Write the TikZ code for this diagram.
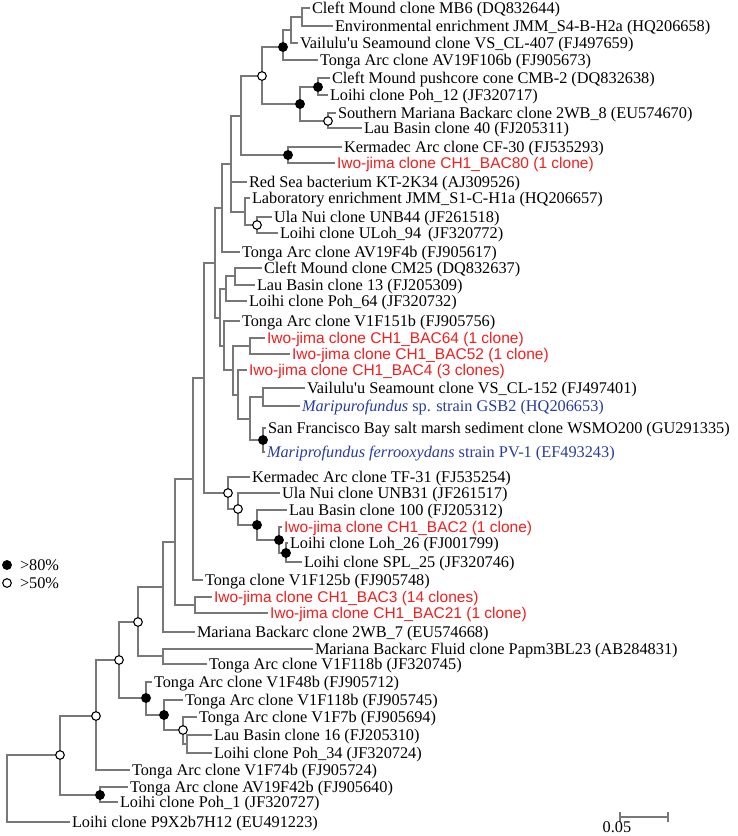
\documentclass[tikz,border=0pt]{standalone}
\usepackage{fontspec}
\setmainfont{Liberation Serif}
\newfontfamily\arialf{Liberation Sans}
\definecolor{brgray}{RGB}{120,120,120}
\definecolor{redt}{RGB}{240,30,30}
\definecolor{bluet}{RGB}{40,60,160}
\begin{document}
\begin{tikzpicture}[x=1pt,y=-1pt,
  br/.style={draw=brgray, line width=1.1pt},
  lf/.style={anchor=west, inner xsep=1.8pt, inner ysep=0pt, font=\fontsize{16.3}{17}\selectfont, text height=10.8pt, text depth=0pt},
  lfr/.style={lf, text=redt, font=\arialf\fontsize{15.5}{17}\selectfont},
  lfb/.style={lf, text=bluet},
  fdot/.style={circle, fill=black, draw=black, line width=0.8pt, inner sep=0pt, minimum size=9pt},
  odot/.style={circle, fill=white, draw=black, line width=1.1pt, inner sep=0pt, minimum size=8.6pt}]
\useasboundingbox (0,0) rectangle (737,836);
% internal nodes
\coordinate (nmb) at (302,17);
\coordinate (nvs) at (291,30);
\coordinate (nav) at (283,47);
\coordinate (ncmb) at (318,87);
\coordinate (nlau) at (328,121);
\coordinate (npoh) at (300,104);
\coordinate (ntop) at (262,76);
\coordinate (nker) at (288,155);
\coordinate (n241) at (241,116);
\coordinate (nuln) at (257,225);
\coordinate (nlab) at (245,212);
\coordinate (n231) at (231,164);
\coordinate (n222) at (222,208);
\coordinate (nD) at (235,276);
\coordinate (nB) at (226,289);
\coordinate (nJ) at (250,346);
\coordinate (nF) at (263,397);
\coordinate (nG) at (263,440);
\coordinate (nE) at (250,419);
\coordinate (nH) at (238,395);
\coordinate (nI) at (233,370);
\coordinate (nC) at (224,346);
\coordinate (nA) at (220,318);
\coordinate (n215) at (215,263);
\coordinate (nM) at (286,553);
\coordinate (nL) at (279,540);
\coordinate (nK) at (257,525);
\coordinate (nN) at (238,509);
\coordinate (ntf) at (228,493);
\coordinate (n204) at (204,378);
\coordinate (n193) at (193,479);
\coordinate (nbac) at (195,605);
\coordinate (n175) at (175,542);
\coordinate (n163) at (163,587);
\coordinate (npap) at (163,656);
\coordinate (n138) at (138,622);
\coordinate (npoh34) at (187,744);
\coordinate (n183) at (183,730);
\coordinate (n164) at (164,715);
\coordinate (n146) at (146,698);
\coordinate (n119) at (119,660);
\coordinate (n96) at (96,716);
\coordinate (n100) at (100,795);
\coordinate (n60) at (60,755);
\coordinate (root) at (7,788);
% leaves
\node[lf] (L1) at (310,8) {Cleft Mound clone MB6 (DQ832644)};
\node[lf] (L2) at (333,26) {Environmental enrichment JMM\_S4-B-H2a (HQ206658)};
\node[lf] (L3) at (298,43) {Vailulu\textquotesingle u Seamound clone VS\_CL-407 (FJ497659)};
\node[lf] (L4) at (318,60) {Tonga Arc clone AV19F106b (FJ905673)};
\node[lf] (L5) at (330,78) {Cleft Mound pushcore cone CMB-2 (DQ832638)};
\node[lf] (L6) at (328,95) {Loihi clone Poh\_12 (JF320717)};
\node[lf] (L7) at (336,113) {Southern Mariana Backarc clone 2WB\_8 (EU574670)};
\node[lf] (L8) at (362,128) {Lau Basin clone 40 (FJ205311)};
\node[lf] (L9) at (342,147) {Kermadec Arc clone CF-30 (FJ535293)};
\node[lfr] (L10) at (335,163) {Iwo-jima clone CH1\_BAC80 (1 clone)};
\node[lf] (L11) at (247,182) {Red Sea bacterium KT-2K34 (AJ309526)};
\node[lf] (L12) at (250,198) {Laboratory enrichment JMM\_S1-C-H1a (HQ206657)};
\node[lf] (L13) at (272,217) {Ula Nui clone UNB44 (JF261518)};
\node[lf] (L14) at (278,233) {Loihi clone ULoh\_94 \,(JF320772)};
\node[lf] (L15) at (240,252) {Tonga Arc clone AV19F4b (FJ905617)};
\node[lf] (L16) at (262,268) {Cleft Mound clone CM25 (DQ832637)};
\node[lf] (L17) at (255,285) {Lau Basin clone 13 (FJ205309)};
\node[lf] (L18) at (247,301) {Loihi clone Poh\_64 (JF320732)};
\node[lf] (L19) at (240,321) {Tonga Arc clone V1F151b (FJ905756)};
\node[lfr] (L20) at (265,338) {Iwo-jima clone CH1\_BAC64 (1 clone)};
\node[lfr] (L21) at (290,354) {Iwo-jima clone CH1\_BAC52 (1 clone)};
\node[lfr] (L22) at (247,370) {Iwo-jima clone CH1\_BAC4 (3 clones)};
\node[lf] (L23) at (305,388) {Vailulu\textquotesingle u Seamount clone VS\_CL-152 (FJ497401)};
\node[lfb] (L24) at (300,406) {\textit{Maripurofundus} sp. strain GSB2 (HQ206653)};
\node[lf] (L25) at (266,428) {San Francisco Bay salt marsh sediment clone WSMO200 (GU291335)};
\node[lfb] (L26) at (265,452) {\textit{Mariprofundus ferrooxydans} strain PV-1 (EF493243)};
\node[lf] (L27) at (250,477) {Kermadec Arc clone TF-31 (FJ535254)};
\node[lf] (L28) at (280,493) {Ula Nui clone UNB31 (JF261517)};
\node[lf] (L29) at (287,510) {Lau Basin clone 100 (FJ205312)};
\node[lfr] (L30) at (282,527) {Iwo-jima clone CH1\_BAC2 (1 clone)};
\node[lf] (L31) at (288,543) {Loihi clone Loh\_26 (FJ001799)};
\node[lf] (L32) at (302,562) {Loihi clone SPL\_25 (JF320746)};
\node[lf] (L33) at (203,580) {Tonga clone V1F125b (FJ905748)};
\node[lfr] (L34) at (212,597) {Iwo-jima clone CH1\_BAC3 (14 clones)};
\node[lfr] (L35) at (268,613) {Iwo-jima clone CH1\_BAC21 (1 clone)};
\node[lf] (L36) at (195,632) {Mariana Backarc clone 2WB\_7 (EU574668)};
\node[lf] (L37) at (313,649) {Mariana Backarc Fluid clone Papm3BL23 (AB284831)};
\node[lf] (L38) at (207,664) {Tonga Arc clone V1F118b (JF320745)};
\node[lf] (L39) at (152,682) {Tonga Arc clone V1F48b (FJ905712)};
\node[lf] (L40) at (183,700) {Tonga Arc clone V1F118b (FJ905745)};
\node[lf] (L41) at (197,717) {Tonga Arc clone V1F7b (FJ905694)};
\node[lf] (L42) at (212,735) {Lau Basin clone 16 (FJ205310)};
\node[lf] (L43) at (212,753) {Loihi clone Poh\_34 (JF320724)};
\node[lf] (L44) at (130,770) {Tonga Arc clone V1F74b (FJ905724)};
\node[lf] (L45) at (128,787) {Tonga Arc clone AV19F42b (FJ905640)};
\node[lf] (L46) at (118,802) {Loihi clone Poh\_1 (JF320727)};
\node[lf] (L47) at (70,822) {Loihi clone P9X2b7H12 (EU491223)};
% branches
\draw[br] (nmb) |- (L1.west);
\draw[br] (nmb) |- (L2.west);
\draw[br] (nvs) |- (nmb);
\draw[br] (nvs) |- (L3.west);
\draw[br] (nav) |- (nvs);
\draw[br] (nav) |- (L4.west);
\draw[br] (ncmb) |- (L5.west);
\draw[br] (ncmb) |- (L6.west);
\draw[br] (nlau) |- (L7.west);
\draw[br] (nlau) |- (L8.west);
\draw[br] (npoh) |- (ncmb);
\draw[br] (npoh) |- (nlau);
\draw[br] (ntop) |- (nav);
\draw[br] (ntop) |- (npoh);
\draw[br] (nker) |- (L9.west);
\draw[br] (nker) |- (L10.west);
\draw[br] (n241) |- (ntop);
\draw[br] (n241) |- (nker);
\draw[br] (nuln) |- (L13.west);
\draw[br] (nuln) |- (L14.west);
\draw[br] (nlab) |- (L12.west);
\draw[br] (nlab) |- (nuln);
\draw[br] (n231) |- (n241);
\draw[br] (n231) |- (L11.west);
\draw[br] (n231) |- (nlab);
\draw[br] (n222) |- (n231);
\draw[br] (n222) |- (L15.west);
\draw[br] (nD) |- (L16.west);
\draw[br] (nD) |- (L17.west);
\draw[br] (nB) |- (nD);
\draw[br] (nB) |- (L18.west);
\draw[br] (nJ) |- (L20.west);
\draw[br] (nJ) |- (L21.west);
\draw[br] (nF) |- (L23.west);
\draw[br] (nF) |- (L24.west);
\draw[br] (nG) |- (L25.west);
\draw[br] (nG) |- (L26.west);
\draw[br] (nE) |- (nF);
\draw[br] (nE) |- (nG);
\draw[br] (nH) |- (L22.west);
\draw[br] (nH) |- (nE);
\draw[br] (nI) |- (nJ);
\draw[br] (nI) |- (nH);
\draw[br] (nC) |- (L19.west);
\draw[br] (nC) |- (nI);
\draw[br] (nA) |- (nB);
\draw[br] (nA) |- (nC);
\draw[br] (n215) |- (n222);
\draw[br] (n215) |- (nA);
\draw[br] (nM) |- (L31.west);
\draw[br] (nM) |- (L32.west);
\draw[br] (nL) |- (L30.west);
\draw[br] (nL) |- (nM);
\draw[br] (nK) |- (L29.west);
\draw[br] (nK) |- (nL);
\draw[br] (nN) |- (L28.west);
\draw[br] (nN) |- (nK);
\draw[br] (ntf) |- (L27.west);
\draw[br] (ntf) |- (nN);
\draw[br] (n204) |- (n215);
\draw[br] (n204) |- (ntf);
\draw[br] (n193) |- (n204);
\draw[br] (n193) |- (L33.west);
\draw[br] (nbac) |- (L34.west);
\draw[br] (nbac) |- (L35.west);
\draw[br] (n175) |- (n193);
\draw[br] (n175) |- (nbac);
\draw[br] (n163) |- (n175);
\draw[br] (n163) |- (L36.west);
\draw[br] (npap) |- (L37.west);
\draw[br] (npap) |- (L38.west);
\draw[br] (n138) |- (n163);
\draw[br] (n138) |- (npap);
\draw[br] (npoh34) |- (L42.west);
\draw[br] (npoh34) |- (L43.west);
\draw[br] (n183) |- (L41.west);
\draw[br] (n183) |- (npoh34);
\draw[br] (n164) |- (L40.west);
\draw[br] (n164) |- (n183);
\draw[br] (n146) |- (L39.west);
\draw[br] (n146) |- (n164);
\draw[br] (n119) |- (n138);
\draw[br] (n119) |- (n146);
\draw[br] (n96) |- (n119);
\draw[br] (n96) |- (L44.west);
\draw[br] (n100) |- (L45.west);
\draw[br] (n100) |- (L46.west);
\draw[br] (n60) |- (n96);
\draw[br] (n60) |- (n100);
\draw[br] (root) |- (n60);
\draw[br] (root) |- (L47.west);
% bootstrap markers
\foreach \p in {ntop,nlau,nuln,ntf,nN,n138,n119,n183,n96,n60}
  \node[odot] (o-\p) at (\p) {};
\foreach \p in {nav,npoh,ncmb,nker,nG,nK,nL,nM,n146,n164,n100}
  \node[fdot] (f-\p) at (\p) {};
% legend
\node[fdot] (lgf) at (7,565) {};
\node[lf] (lgft) at (18,565) {>80\%};
\node[odot] (lgo) at (7,583) {};
\node[lf] (lgot) at (18,583) {>50\%};
% scale bar
\coordinate (sbl) at (620,817);
\coordinate (sbr) at (668,817);
\draw[br] (sbl) -- (sbr);
\draw[br] ([yshift=-5pt]sbl) -- ([yshift=5pt]sbl);
\draw[br] ([yshift=-5pt]sbr) -- ([yshift=5pt]sbr);
\node[lf, anchor=center] (sbt) at (617,827) {0.05};
\end{tikzpicture}
\end{document}
